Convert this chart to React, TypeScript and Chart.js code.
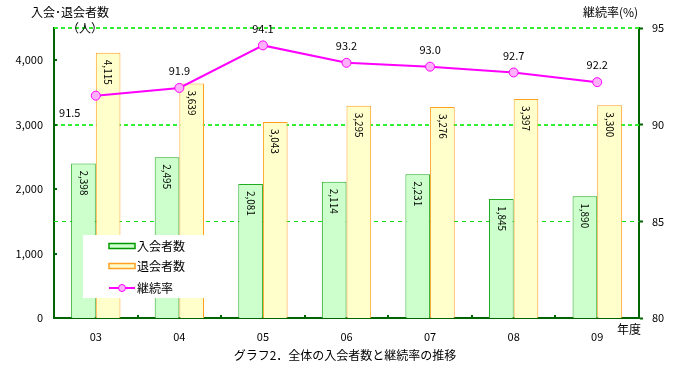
import React, { useEffect, useRef } from "react";
import { Chart, registerables } from "chart.js";

Chart.register(...registerables);

const years = ["03", "04", "05", "06", "07", "08", "09"];
const joinedCounts = [2398, 2495, 2081, 2114, 2231, 1845, 1890];
const leftCounts = [4115, 3639, 3043, 3295, 3276, 3397, 3300];
const retentionRates = [91.5, 91.9, 94.1, 93.2, 93.0, 92.7, 92.2];
const countTicks = [0, 1000, 2000, 3000, 4000];
const rateTicks = [80, 85, 90, 95];

const FONT = '"Noto Sans CJK JP", "DejaVu Sans", sans-serif';
const AXIS = "#006400";
const GRID = "#33ee33";

const fmt = (v: number) => v.toLocaleString("en-US");

const overlay = {
  id: "overlay",
  beforeDatasetsDraw(chart: any) {
    const ctx = chart.ctx;
    const { left, right } = chart.chartArea;
    const yr = chart.scales.y1;
    ctx.save();
    rateTicks.forEach((v) => {
      if (v === 80) return;
      const y = Math.round(yr.getPixelForValue(v)) + (v === 85 ? 0.5 : 0);
      ctx.strokeStyle = v === 85 ? "#11dd11" : GRID;
      ctx.lineWidth = v === 85 ? 1 : 2;
      ctx.setLineDash(v === 85 ? [4, 4] : [4, 3]);
      ctx.beginPath();
      ctx.moveTo(left, y);
      ctx.lineTo(right, y);
      ctx.stroke();
    });
    ctx.restore();
  },
  afterDatasetsDraw(chart: any) {
    const ctx = chart.ctx;
    ctx.save();
    ctx.fillStyle = "#000";
    ctx.font = `10px ${FONT}`;
    [0, 1].forEach((di) => {
      const meta = chart.getDatasetMeta(di);
      const vals = di === 0 ? joinedCounts : leftCounts;
      meta.data.forEach((bar: any, i: number) => {
        ctx.save();
        ctx.translate(bar.x, bar.y + 7);
        ctx.rotate(Math.PI / 2);
        ctx.textAlign = "left";
        ctx.textBaseline = "middle";
        ctx.fillText(fmt(vals[i]), 0, 0);
        ctx.restore();
      });
    });
    const lm = chart.getDatasetMeta(2);
    ctx.font = `11px ${FONT}`;
    ctx.textAlign = "center";
    ctx.textBaseline = "middle";
    lm.data.forEach((pt: any, i: number) => {
      const txt = retentionRates[i].toFixed(1);
      if (i === 0) ctx.fillText(txt, pt.x - 26, pt.y + 17);
      else ctx.fillText(txt, pt.x, pt.y - 17);
    });
    ctx.restore();
  },
  afterDraw(chart: any) {
    const ctx = chart.ctx;
    const { left, right, bottom } = chart.chartArea;
    const yl = chart.scales.y;
    ctx.save();
    ctx.strokeStyle = AXIS;
    ctx.lineWidth = 2;
    const step = (right - left) / years.length;
    for (let i = 1; i < years.length; i++) {
      const x = Math.round(left + step * i);
      ctx.beginPath();
      ctx.moveTo(x, bottom);
      ctx.lineTo(x, bottom - 3);
      ctx.stroke();
    }
    countTicks.forEach((v) => {
      const y = Math.round(yl.getPixelForValue(v));
      ctx.beginPath();
      ctx.moveTo(left, y);
      ctx.lineTo(left + 3, y);
      ctx.stroke();
    });
    // legend box
    const lx = 83, ly = 235, lw = 121, lh = 63;
    ctx.fillStyle = "#fff";
    ctx.fillRect(lx, ly, lw, lh);
    ctx.font = `12px ${FONT}`;
    ctx.textAlign = "left";
    ctx.textBaseline = "middle";
    const items = [
      { label: "入会者数", fill: "#ccffcc", stroke: "#009900", y: 246 },
      { label: "退会者数", fill: "#ffffcc", stroke: "#ffa020", y: 266 },
    ];
    items.forEach((it) => {
      ctx.fillStyle = it.fill;
      ctx.strokeStyle = it.stroke;
      ctx.lineWidth = 1.5;
      ctx.fillRect(109, it.y - 2.5, 26, 5);
      ctx.strokeRect(109, it.y - 2.5, 26, 5);
      ctx.fillStyle = "#000";
      ctx.fillText(it.label, 137, it.y);
    });
    ctx.strokeStyle = "#ff00ff";
    ctx.lineWidth = 2;
    ctx.beginPath();
    ctx.moveTo(109, 288);
    ctx.lineTo(135, 288);
    ctx.stroke();
    ctx.beginPath();
    ctx.arc(122, 288, 3.5, 0, Math.PI * 2);
    ctx.fillStyle = "#ffb0ff";
    ctx.fill();
    ctx.lineWidth = 1;
    ctx.stroke();
    ctx.fillStyle = "#000";
    ctx.fillText("継続率", 137, 288);
    // titles
    ctx.font = `12px ${FONT}`;
    ctx.textAlign = "left";
    ctx.fillText("入会･退会者数", 31, 12);
    ctx.textAlign = "center";
    ctx.fillText("（人）", 85, 28);
    ctx.textAlign = "left";
    ctx.fillText("継続率(%)", 583, 12);
    ctx.fillText("年度", 617, 329);
    ctx.textAlign = "center";
    ctx.fillText("グラフ2．全体の入会者数と継続率の推移", 345, 355);
    ctx.restore();
  },
};

export default function App() {
  const ref = useRef<HTMLCanvasElement>(null);
  useEffect(() => {
    if (!ref.current) return;
    const chart = new Chart(ref.current, {
      type: "bar",
      data: {
        labels: years,
        datasets: [
          {
            type: "bar",
            label: "入会者数",
            data: joinedCounts,
            backgroundColor: "#ccffcc",
            borderColor: "#22aa22",
            borderWidth: 1,
            yAxisID: "y",
            order: 2,
            barPercentage: 1,
            categoryPercentage: 0.59,
          },
          {
            type: "bar",
            label: "退会者数",
            data: leftCounts,
            backgroundColor: "#ffffcc",
            borderColor: "#ffa020",
            borderWidth: 1,
            yAxisID: "y",
            order: 2,
            barPercentage: 1,
            categoryPercentage: 0.59,
          },
          {
            type: "line",
            label: "継続率",
            data: retentionRates,
            borderColor: "#ff00ff",
            borderWidth: 2,
            pointRadius: 4.5,
            pointBackgroundColor: "#ffb0ff",
            pointBorderColor: "#ff00ff",
            pointBorderWidth: 1,
            yAxisID: "y1",
            order: 0,
          },
        ],
      } as any,
      options: {
        responsive: false,
        animation: false,
        events: [],
        layout: { padding: { top: 28, left: 0, right: 0, bottom: 0 } },
        font: { family: FONT, size: 11 },
        plugins: { legend: { display: false }, tooltip: { enabled: false } },
        scales: {
          x: {
            grid: { display: false, drawTicks: false },
            border: { color: AXIS, width: 2 },
            ticks: { color: "#000", padding: 12, font: { family: FONT, size: 11 } },
            afterFit: (s: any) => {
              s.height = 55;
            },
          },
          y: {
            position: "left",
            min: 0,
            max: 4500,
            grid: { display: false, drawTicks: false },
            border: { color: AXIS, width: 2 },
            ticks: {
              color: "#000",
              padding: 11,
              font: { family: FONT, size: 11 },
              callback: (v: any) => fmt(Number(v)),
            },
            afterBuildTicks: (s: any) => {
              s.ticks = countTicks.map((v) => ({ value: v }));
            },
            afterFit: (s: any) => {
              s.width = 54;
            },
          },
          y1: {
            position: "right",
            min: 80,
            max: 95,
            grid: {
              drawOnChartArea: false,
              drawTicks: true,
              tickLength: 4,
              tickColor: AXIS,
              tickWidth: 2,
            },
            border: { color: AXIS, width: 2 },
            ticks: { color: "#000", padding: 9, font: { family: FONT, size: 11 } },
            afterBuildTicks: (s: any) => {
              s.ticks = rateTicks.map((v) => ({ value: v }));
            },
            afterFit: (s: any) => {
              s.width = 41;
            },
          },
        },
      } as any,
      plugins: [overlay],
    });
    return () => chart.destroy();
  }, []);
  return (
    <div style={{ position: "fixed", left: 0, top: 0, width: 680, height: 373, background: "#fff" }}>
      <canvas ref={ref} width={680} height={373} style={{ width: 680, height: 373 }} />
    </div>
  );
}
